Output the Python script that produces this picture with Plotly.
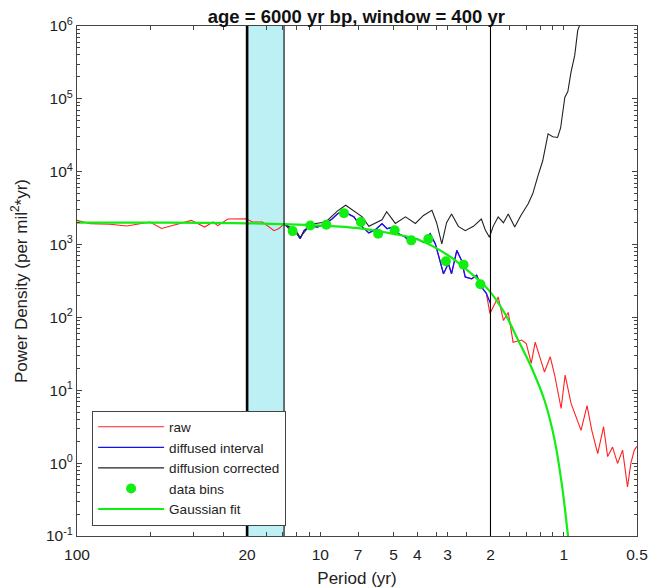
import plotly.graph_objects as go

# ---------------- data ----------------
raw_left_period = [100, 88.2, 73.1, 62.4, 55.1, 50.2, 44.9, 37.8, 33.9, 29.9, 27.6, 26.4,
                   24.0, 20.2, 19.0, 17.3, 16.2, 15.5, 14.8, 14.1]
raw_left_value = [2148, 1936, 1905, 1795, 1936, 2042, 1660, 1936, 2148, 1738, 2042, 1820,
                  2239, 2265, 2042, 2042, 1738, 1549, 1660, 1905]

raw_right_period = [2.01, 1.86, 1.77, 1.69, 1.615, 1.49, 1.425, 1.36, 1.31, 1.20, 1.136, 1.09,
                    1.025, 0.987, 0.933, 0.849, 0.802, 0.767, 0.725, 0.686, 0.660, 0.630,
                    0.601, 0.573, 0.547, 0.530, 0.513, 0.500]
raw_right_value = [113, 191, 91, 117, 45.7, 49, 43.6, 23.4, 45.7, 17.8, 28.8, 16.2,
                   5.62, 16.2, 6.61, 2.82, 6.17, 2.82, 1.35, 3.16, 1.23, 1.66,
                   0.99, 1.51, 0.47, 0.99, 1.51, 1.7]

diffused_period = [14.07, 13.43, 12.60, 12.11, 11.66, 10.95, 10.29, 9.50, 8.93, 8.52, 8.13,
                   7.63, 7.28, 6.95, 6.63, 6.32, 5.94, 5.58, 5.32, 5.00, 4.77, 4.47, 4.27,
                   4.01, 3.77, 3.54, 3.37, 3.22, 3.12, 2.98, 2.89, 2.75, 2.63, 2.54, 2.39,
                   2.28, 2.18, 2.08, 2.00]
diffused_value = [1936, 1652, 1479, 1202, 1567, 1820, 1738, 1936, 2265, 2630, 2884,
                  2630, 2399, 1936, 1652, 1445, 1603, 1936, 1652, 1738, 1413, 1259, 1072,
                  1202, 1072, 1413, 1023, 575, 398, 550, 398, 832, 603, 359, 339,
                  380, 263, 214, 155]

corrected_period = [14.07, 12.60, 12.11, 10.95, 9.50, 8.52, 7.87, 7.28, 6.73, 6.32, 5.94,
                    5.58, 5.34, 4.92, 4.47, 4.07, 3.77, 3.48, 3.33, 3.17, 3.03, 2.89, 2.71,
                    2.54, 2.35, 2.18, 2.10, 2.02, 1.95, 1.86, 1.77, 1.69, 1.59, 1.50, 1.40,
                    1.34, 1.28, 1.22, 1.16, 1.11, 1.06, 1.03, 0.99, 0.962, 0.933, 0.901,
                    0.876, 0.851]
corrected_value = [1936, 1549, 1259, 1905, 2042, 2884, 3467, 2884, 2399, 1778, 1995,
                   2188, 2818, 1950, 2399, 1950, 2512, 2951, 1995, 1023, 1995, 2630, 1778,
                   1549, 1778, 2239, 1585, 1259, 1778, 2399, 1995, 2630, 1738, 2512, 3631,
                   5012, 8511, 14125, 33113, 30200, 29512, 39811, 104713, 125893, 234423,
                   398107, 870964, 1122018]

bins_period = [13.0, 11.0, 9.45, 8.0, 6.82, 5.79, 4.95, 4.23, 3.60, 3.05, 2.58, 2.20]
bins_value = [1530, 1830, 1875, 2700, 2040, 1410, 1570, 1143, 1190, 589, 530, 285]

fit_period = [100, 50, 20, 10, 7, 5, 4, 3, 2.5, 2.03, 1.745, 1.54, 1.36, 1.2, 1.09, 1.01,
              0.96, 0.94]
fit_value = [2000, 2000, 1960, 1820, 1680, 1400, 1180, 720, 450, 235, 113, 49, 20.9, 7.3,
             2.07, 0.42, 0.1, 0.06]

band_period = [20, 14.1]
line_periods = [20, 14.1, 2]
line_widths = [2.6, 1.1, 1.1]

x_tick_vals = [100, 20, 10, 7, 5, 4, 3, 2, 1, 0.5]
x_tick_text = ["100", "20", "10", "7", "5", "4", "3", "2", "1", "0.5"]
x_minor_vals = [50, 33.33, 25, 16.67, 14.29, 12.5, 11.11, 3.333, 2.5, 1.667, 1.4286, 1.25, 1.111]
y_tick_vals = [0.1, 1, 10, 100, 1e3, 1e4, 1e5, 1e6]
y_tick_text = ["10<sup>-1</sup>", "10<sup>0</sup>", "10<sup>1</sup>", "10<sup>2</sup>",
               "10<sup>3</sup>", "10<sup>4</sup>", "10<sup>5</sup>", "10<sup>6</sup>"]
y_minor_vals = [m * 10 ** e for e in range(-1, 6) for m in range(2, 10)]

title_text = "age = 6000 yr bp, window = 400 yr"

# ---------------- figure ----------------
FONT = "Liberation Sans, Arial, sans-serif"
fig = go.Figure()

raw_period = raw_left_period + diffused_period[1:-1] + raw_right_period
raw_value = raw_left_value + diffused_value[1:-1] + raw_right_value

fig.add_trace(go.Scatter(x=raw_period, y=raw_value, mode="lines", name="raw",
                         line=dict(color="#ff2020", width=1.1)))
fig.add_trace(go.Scatter(x=diffused_period, y=diffused_value, mode="lines",
                         name="diffused interval", line=dict(color="#1010ff", width=1.3)))
fig.add_trace(go.Scatter(x=corrected_period, y=corrected_value, mode="lines",
                         name="diffusion corrected", line=dict(color="#222222", width=1.1)))
fig.add_trace(go.Scatter(x=bins_period, y=bins_value, mode="markers", name="data bins",
                         marker=dict(color="#11ee11", size=10)))
fig.add_trace(go.Scatter(x=fit_period, y=fit_value, mode="lines", name="Gaussian fit",
                         line=dict(color="#11ee11", width=2.2, shape="spline")))

fig.add_vrect(x0=band_period[0], x1=band_period[1], fillcolor="#bdf0f5", line_width=0,
              layer="below")
for p, w in zip(line_periods, line_widths):
    fig.add_vline(x=p, line=dict(color="black", width=w), layer="above")

fig.update_layout(
    width=649, height=588,
    margin=dict(l=77, r=12, t=26, b=52),
    paper_bgcolor="white", plot_bgcolor="white",
    font=dict(family=FONT, size=15, color="#222222"),
    title=dict(text="<b>" + title_text + "</b>", x=0.549, xanchor="center", y=0.972,
               yanchor="middle", font=dict(size=18.5, color="#111111")),
    showlegend=True,
    legend=dict(x=0.027, y=0.246, xanchor="left", yanchor="top", bgcolor="white",
                bordercolor="#444444", borderwidth=1, font=dict(size=13.5, color="#222222"),
                tracegroupgap=0, itemwidth=66),
)
fig.update_xaxes(
    type="log", range=[2, -0.30103], showgrid=False, zeroline=False, automargin=False,
    showline=True, linecolor="#444444", linewidth=1, mirror="allticks",
    ticks="inside", ticklen=4, tickcolor="#444444",
    tickvals=x_tick_vals, ticktext=x_tick_text, ticklabelstandoff=4,
    minor=dict(ticks="inside", ticklen=4, tickcolor="#444444", tickvals=x_minor_vals),
    title=dict(text="Period (yr)", standoff=10, font=dict(size=17)),
    tickfont=dict(size=15.5),
)
fig.update_yaxes(
    type="log", range=[-1, 6], showgrid=False, zeroline=False, automargin=False,
    showline=True, linecolor="#444444", linewidth=1, mirror="allticks",
    ticks="inside", ticklen=5, tickcolor="#444444",
    tickvals=y_tick_vals, ticktext=y_tick_text,
    minor=dict(ticks="inside", ticklen=3, tickcolor="#444444", tickvals=y_minor_vals),
    title=dict(text="Power Density (per mil<sup>2</sup>*yr)", standoff=14, font=dict(size=17)),
    tickfont=dict(size=15.5),
)

fig.write_html("out.html")
